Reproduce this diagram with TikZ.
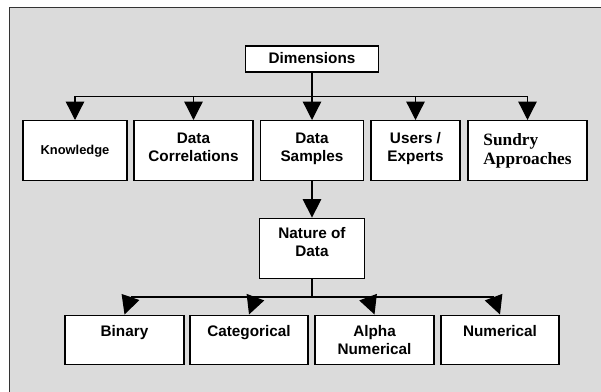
\documentclass[tikz,border=0pt]{standalone}
\usepackage{fontspec}
\setsansfont{Liberation Sans}
\newfontfamily\timesbf{Liberation Serif}
\usetikzlibrary{arrows.meta}
\tikzstyle{box} = [draw, fill=white, line width=1.4pt, align=center, inner sep=2pt,
  font=\sffamily\bfseries\fontsize{15.3}{17.7}\selectfont]
\tikzstyle{link} = [line width=1.3pt]
\tikzstyle{arr} = [line width=1.3pt, -{Triangle[length=18.5pt,width=18.5pt]}]

\begin{document}
\begin{tikzpicture}[x=1pt,y=-1pt]
	  \useasboundingbox (0,0) rectangle (601,391);
	  \fill [black!14] (9,7.5) rectangle (602,392);
	  \draw [line width=1pt, black!80] (9,392) -- (9,7.5) -- (602,7.5);

	  \node (dim) at (312,59) [box, minimum width=133pt, minimum height=26pt, text depth=3pt] {Dimensions};
	  \node (know) at (75,150.7) [box, minimum width=104pt, minimum height=60pt,
	    font=\sffamily\bfseries\fontsize{12.9}{15}\selectfont] {Knowledge};
	  \node (corr) at (193.5,150.7) [box, minimum width=119pt, minimum height=60pt, text depth=7pt] {Data\\Correlations};
	  \node (samp) at (312,150.7) [box, minimum width=103pt, minimum height=60pt, text depth=7pt] {Data\\Samples};
	  \node (user) at (415.5,150.7) [box, minimum width=89pt, minimum height=60pt, text depth=7pt] {Users /\\Experts};
	  \node (sund) at (527.5,150.7) [box, minimum width=119pt, minimum height=60pt, align=left,
	    font=\timesbf\bfseries\fontsize{17.3}{18.3}\selectfont] {Sundry\\Approaches};
	  \node (nat) at (312,248.3) [box, minimum width=105pt, minimum height=60pt, text depth=12pt] {Nature of\\Data};
	  \node (bin) at (124.5,339.7) [box, minimum width=119pt, minimum height=49pt] {Binary\\\mbox{}};
	  \node (cat) at (249,339.7) [box, minimum width=118pt, minimum height=49pt] {Categorical\\\mbox{}};
	  \node (alp) at (374.5,339.7) [box, minimum width=119pt, minimum height=49pt] {Alpha\\Numerical};
	  \node (num) at (500,339.7) [box, minimum width=118pt, minimum height=49pt] {Numerical\\\mbox{}};

	  % upper tree
	  \coordinate (top) at (312,96.7);
	  \draw [line width=2.3pt] (dim) -- (top);
	  \draw [arr] (top) -| (know);
	  \draw [arr] (top) -| (corr);
	  \draw [arr] (top) -| (samp);
	  \draw [arr] (top) -| (user);
	  \draw [arr] (top) -| (sund);
	  \draw [arr] (samp) -- (nat);

	  % lower tree
	  \coordinate (low) at (312,297);
	  \coordinate (b1) at (130.5,297);
	  \coordinate (b2) at (255.5,297);
	  \coordinate (b3) at (368,297);
	  \coordinate (b4) at (493.5,297);
	  \draw [line width=1.7pt] (nat) -- (low);
	  \draw [link] (b1) -- (b4);
	  \draw [arr] (b1) -- (bin.north);
	  \draw [arr] (b2) -- (cat.north);
	  \draw [arr] (b3) -- (alp.north);
	  \draw [arr] (b4) -- (num.north);
\end{tikzpicture}
\end{document}
